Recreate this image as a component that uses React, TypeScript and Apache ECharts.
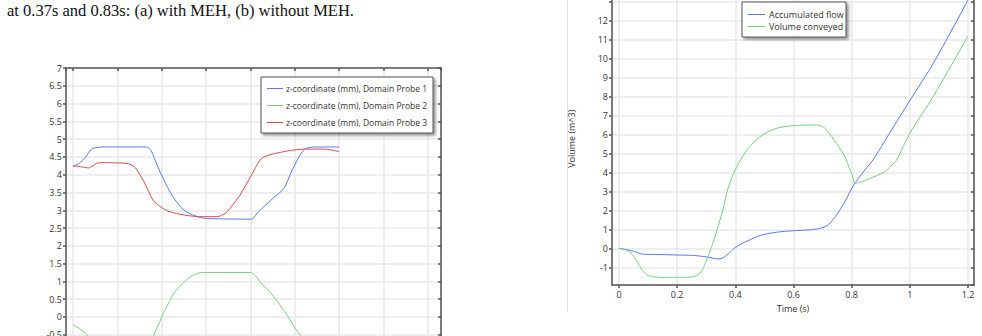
import React, { useEffect, useRef } from "react";
import * as echarts from "echarts";

// ---- Left chart (a): z-coordinate of three domain probes ----
const probe1T = [0, 0.03, 0.06, 0.08, 0.1, 0.15, 0.25, 0.32, 0.34, 0.355, 0.377, 0.406, 0.45, 0.5, 0.54, 0.587, 0.65, 0.8, 0.81, 0.836, 0.86, 0.9, 0.95, 0.984, 1.015, 1.04, 1.06, 1.1, 1.2];
const probe1V = [4.23, 4.33, 4.52, 4.7, 4.76, 4.78, 4.78, 4.78, 4.76, 4.64, 4.3, 3.9, 3.38, 3.0, 2.87, 2.78, 2.76, 2.75, 2.76, 2.96, 3.1, 3.33, 3.61, 4.08, 4.46, 4.69, 4.76, 4.78, 4.78];

const probe2T = [0, 0.03, 0.062, 0.1, 0.15, 0.2, 0.26, 0.3, 0.34, 0.365, 0.39, 0.407, 0.43, 0.45, 0.48, 0.51, 0.54, 0.572, 0.6, 0.7, 0.8, 0.81, 0.83, 0.85, 0.88, 0.91, 0.94, 0.97, 1.0, 1.023, 1.06, 1.1, 1.2];
const probe2V = [-0.22, -0.33, -0.5, -0.85, -1.25, -1.45, -1.5, -1.4, -0.95, -0.5, -0.15, 0.1, 0.38, 0.62, 0.85, 1.03, 1.17, 1.24, 1.25, 1.25, 1.25, 1.23, 1.1, 0.93, 0.75, 0.52, 0.28, 0.0, -0.3, -0.5, -0.8, -1.05, -1.3];

const probe3T = [0, 0.04, 0.07, 0.09, 0.11, 0.15, 0.2, 0.25, 0.28, 0.32, 0.36, 0.38, 0.42, 0.48, 0.57, 0.65, 0.69, 0.72, 0.752, 0.8, 0.85, 0.9, 0.98, 1.05, 1.13, 1.2];
const probe3V = [4.25, 4.22, 4.19, 4.25, 4.33, 4.34, 4.33, 4.31, 4.2, 3.8, 3.29, 3.17, 3.0, 2.89, 2.82, 2.82, 2.93, 3.15, 3.42, 3.94, 4.46, 4.58, 4.68, 4.72, 4.72, 4.65];

// ---- Right chart (b): volumes ----
const flowT = [0, 0.03, 0.06, 0.078, 0.12, 0.2, 0.26, 0.3, 0.34, 0.355, 0.375, 0.4, 0.44, 0.485, 0.54, 0.6, 0.65, 0.69, 0.72, 0.75, 0.78, 0.805, 0.845, 0.873, 0.93, 1.0, 1.081, 1.2];
const flowV = [0, -0.08, -0.2, -0.3, -0.32, -0.35, -0.38, -0.45, -0.56, -0.52, -0.3, 0.05, 0.38, 0.68, 0.85, 0.93, 0.97, 1.05, 1.25, 1.8, 2.55, 3.3, 4.13, 4.66, 6.07, 7.8, 9.77, 13.1];

const volT = [0, 0.031, 0.05, 0.065, 0.08, 0.096, 0.12, 0.141, 0.2, 0.255, 0.278, 0.292, 0.306, 0.322, 0.337, 0.357, 0.375, 0.399, 0.44, 0.485, 0.54, 0.6, 0.68, 0.7, 0.714, 0.748, 0.777, 0.794, 0.8, 0.811, 0.83, 0.851, 0.88, 0.914, 0.935, 0.954, 1.0, 1.08, 1.2];
const volV = [0, -0.12, -0.4, -0.77, -1.15, -1.41, -1.5, -1.53, -1.53, -1.5, -1.32, -0.95, -0.44, 0.25, 0.97, 2.02, 3.17, 4.13, 5.19, 5.89, 6.33, 6.48, 6.51, 6.42, 6.25, 5.54, 4.84, 4.13, 3.96, 3.43, 3.5, 3.61, 3.8, 4.04, 4.35, 4.65, 6.07, 8.0, 11.2];

const leftNames = [
  "z-coordinate (mm), Domain Probe 1",
  "z-coordinate (mm), Domain Probe 2",
  "z-coordinate (mm), Domain Probe 3",
];
const rightNames = ["Accumulated flow", "Volume conveyed"];
const caption = "at 0.37s and 0.83s: (a) with MEH, (b) without MEH.";
const yNameRight = "Volume (m^3)";
const xNameRight = "Time (s)";

const BLUE = "#5a78ff";
const GREEN = "#72d27c";
const RED = "#e34848";
const FONT = "Open Sans";
const AXIS = { color: "#555", width: 1.5 };
const GRIDLINE = { color: "#e8e8e8", width: 1.5 };
const LABEL = { color: "#333", fontSize: 9, fontFamily: FONT };

const pairs = (t: number[], v: number[]) => t.map((x, i) => [x, v[i]]);

function legendGraphic(
  names: string[], colors: string[], x: number, y: number, w: number, h: number,
  firstY: number, step: number, lineW: number, textGap: number, fontSize: number
) {
  const Z = 100;
  const children: any[] = [
    {
      type: "rect", z: Z, shape: { x, y, width: w, height: h },
      style: { fill: "#fff", stroke: "#555", lineWidth: 1, shadowBlur: 3, shadowOffsetX: 2, shadowOffsetY: 2, shadowColor: "rgba(0,0,0,0.45)" },
    },
  ];
  names.forEach((n, i) => {
    const cy = firstY + i * step;
    children.push({
      type: "line", z: Z + 1, shape: { x1: x + 6, y1: cy + 0.5, x2: x + 6 + lineW, y2: cy + 0.5 },
      style: { stroke: colors[i], lineWidth: 1 },
    });
    children.push({
      type: "text", z: Z + 1, x: x + 6 + lineW + textGap, y: cy,
      style: { text: n, fill: "#333", font: `${fontSize}px "${FONT}"`, verticalAlign: "middle", align: "left" },
    });
  });
  return { type: "group", z: Z, children };
}

export default function App() {
  const ref = useRef<HTMLDivElement>(null);
  useEffect(() => {
    document.body.style.margin = "0";
    const chart = echarts.init(ref.current!, null, { renderer: "svg" });
    const line = (name: string, t: number[], v: number[], color: string, xi: number, yi: number) => ({
      type: "line",
      name,
      data: pairs(t, v),
      xAxisIndex: xi,
      yAxisIndex: yi,
      symbol: "none",
      showSymbol: false,
      smooth: 0.25,
      lineStyle: { color, width: 1 },
      itemStyle: { color },
      silent: true,
    });
    const axisLine = { show: true, onZero: false, lineStyle: AXIS };
    chart.setOption({
      animation: false,
      backgroundColor: "#fff",
      grid: [
        { left: 66, top: 68, width: 375, height: 320.1, outerBoundsMode: "none", containLabel: false },
        { left: 612, top: -7.5, width: 362, height: 292.5, outerBoundsMode: "none", containLabel: false },
      ],
      xAxis: [
        {
          gridIndex: 0, type: "value", position: "bottom", min: -0.0315, max: 1.6586, splitNumber: 8,
          axisLine, axisTick: { show: true, length: 3, lineStyle: AXIS },
          axisLabel: { ...LABEL, showMinLabel: false, showMaxLabel: false }, splitLine: { show: true, lineStyle: GRIDLINE },
        },
        {
          gridIndex: 0, type: "value", position: "top", min: -0.0315, max: 1.6586, splitNumber: 8,
          axisLine, axisTick: { show: true, inside: true, length: 3, lineStyle: AXIS },
          axisLabel: { show: false }, splitLine: { show: false },
        },
        {
          gridIndex: 1, type: "value", position: "bottom", min: -0.0241, max: 1.2206, splitNumber: 6,
          name: xNameRight, nameLocation: "middle", nameGap: 13, nameTextStyle: { ...LABEL },
          axisLine, axisTick: { show: true, length: 3, lineStyle: AXIS },
          axisLabel: { ...LABEL, margin: 5, showMinLabel: false, showMaxLabel: false }, splitLine: { show: true, lineStyle: GRIDLINE },
        },
      ],
      yAxis: [
        {
          gridIndex: 0, type: "value", position: "left", min: -2, max: 7, interval: 0.5,
          axisLine, axisTick: { show: true, length: 3, lineStyle: AXIS },
          axisLabel: { ...LABEL, margin: 4 }, splitLine: { show: true, lineStyle: GRIDLINE },
        },
        {
          gridIndex: 0, type: "value", position: "right", min: -2, max: 7, interval: 0.5,
          axisLine, axisTick: { show: true, inside: true, length: 3, lineStyle: AXIS },
          axisLabel: { show: false }, splitLine: { show: false },
        },
        {
          gridIndex: 1, type: "value", position: "left", min: -1.934, max: 13.5, splitNumber: 15,
          name: yNameRight, nameLocation: "middle", nameGap: 36, nameTextStyle: { ...LABEL },
          axisLine, axisTick: { show: true, length: 3, lineStyle: AXIS },
          axisLabel: {
            ...LABEL, margin: 4, showMinLabel: false, showMaxLabel: false,
            formatter: (v: number) => (v > 12.5 ? "" : String(v)),
          },
          splitLine: { show: true, lineStyle: GRIDLINE },
        },
        {
          gridIndex: 1, type: "value", position: "right", min: -1.934, max: 13.5, splitNumber: 15,
          axisLine, axisTick: { show: true, inside: true, length: 3, lineStyle: AXIS },
          axisLabel: { show: false }, splitLine: { show: false },
        },
      ],
      graphic: [
        {
          type: "text", left: 7, top: 2,
          style: { text: caption, font: '16.5px "Liberation Serif"', fill: "#111" },
        },
        {
          type: "line", shape: { x1: 567.5, y1: 0, x2: 567.5, y2: 312 },
          style: { stroke: "#e2e2e2", lineWidth: 1 },
        },
        legendGraphic(leftNames, [BLUE, GREEN, RED], 261, 77, 172, 56, 88, 17, 16, 3, 8.5),
        legendGraphic(rightNames, [BLUE, GREEN], 742, 2, 104, 35, 14, 12, 17, 4, 9),
      ],
      series: [
        line(leftNames[0], probe1T, probe1V, BLUE, 0, 0),
        line(leftNames[1], probe2T, probe2V, GREEN, 0, 0),
        line(leftNames[2], probe3T, probe3V, RED, 0, 0),
        line(rightNames[0], flowT, flowV, BLUE, 2, 2),
        line(rightNames[1], volT, volV, GREEN, 2, 2),
      ],
    });
    return () => chart.dispose();
  }, []);
  return <div ref={ref} style={{ width: 982, height: 336 }} />;
}
